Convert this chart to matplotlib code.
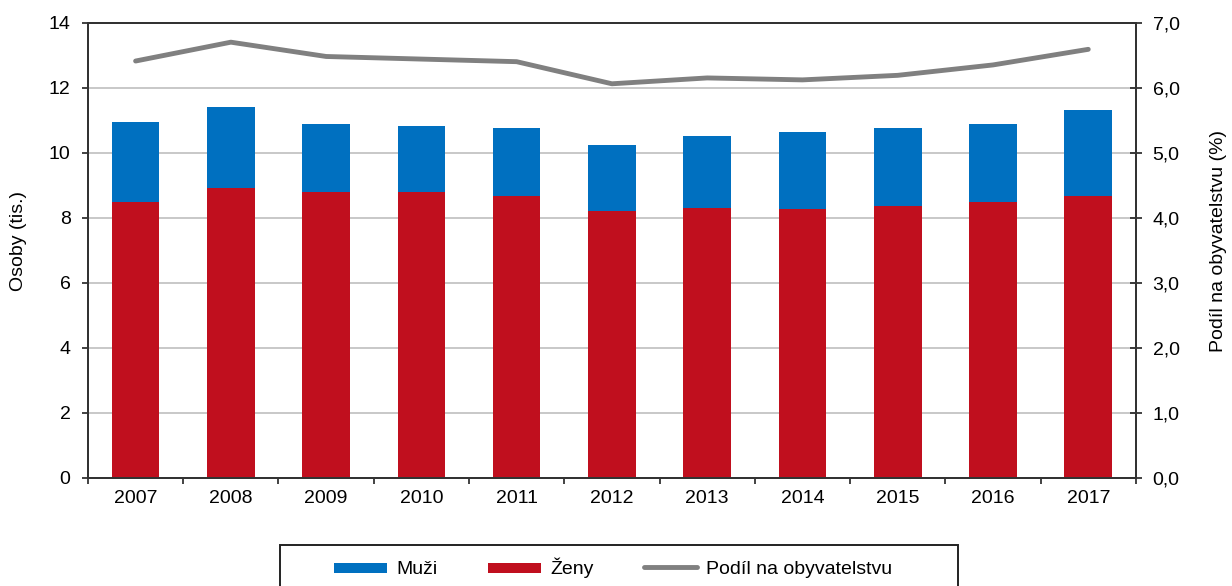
import numpy as np
import matplotlib.pyplot as plt
from matplotlib.ticker import MultipleLocator, FuncFormatter
from matplotlib.patches import Rectangle

plt.rcParams['font.family'] = ['Liberation Sans', 'DejaVu Sans']

years = ['2007', '2008', '2009', '2010', '2011', '2012', '2013', '2014', '2015', '2016', '2017']
zeny = [8.49, 8.90, 8.79, 8.79, 8.68, 8.20, 8.31, 8.26, 8.37, 8.49, 8.68]
muzi = [2.45, 2.52, 2.09, 2.03, 2.09, 2.03, 2.21, 2.38, 2.40, 2.39, 2.62]
podil = [6.41, 6.70, 6.48, 6.44, 6.40, 6.06, 6.15, 6.12, 6.19, 6.35, 6.59]

blue = '#0070C0'
red = '#C00F1E'
gray = '#808080'
fs = 14

fig = plt.figure(figsize=(12.32, 5.86), dpi=100)
ax = fig.add_axes([0.0714, 0.1848, 0.8506, 0.7765])
x = np.arange(len(years))

b1 = ax.bar(x, zeny, width=0.5, color=red, zorder=2, label='Ženy')
b2 = ax.bar(x, muzi, width=0.5, bottom=zeny, color=blue, zorder=2, label='Muži')

ax.set_xlim(-0.5, len(years) - 0.5)
ax.set_ylim(0, 14)
ax.yaxis.set_major_locator(MultipleLocator(2))
ax.grid(axis='y', color='#BFBFBF', linewidth=1.2, zorder=0)
ax.set_xticks(x)
ax.set_xticklabels(years, fontsize=fs)
ax.set_xticks(np.arange(-0.5, len(years)), minor=True)
ax.tick_params(axis='x', which='major', length=0, pad=9)
ax.tick_params(axis='x', which='minor', length=4.5, width=1.2, color='#222222')
ax.tick_params(axis='y', labelsize=fs, length=4.5, width=1.2, color='#222222', pad=8)
ax.set_ylabel('Osoby (tis.)', fontsize=fs)
ax.yaxis.set_label_coords(-0.058, 0.52)
for s in ax.spines.values():
    s.set_color('#333333')
    s.set_linewidth(1.4)

ax2 = ax.twinx()
ln, = ax2.plot(x, podil, color=gray, linewidth=3.5, label='Podíl na obyvatelstvu',
               solid_capstyle='round', zorder=3)
ax2.set_ylim(0, 7)
ax2.yaxis.set_major_locator(MultipleLocator(1))
ax2.yaxis.set_major_formatter(FuncFormatter(lambda v, p: f'{v:.1f}'.replace('.', ',')))
ax2.tick_params(axis='y', labelsize=fs, length=8, width=1.2, color='#222222', direction='inout', pad=8)
ax2.set_ylabel('Podíl na obyvatelstvu (%)', fontsize=fs)
ax2.yaxis.set_label_coords(1.0705, 0.52)
for s in ax2.spines.values():
    s.set_color('#333333')
    s.set_linewidth(1.4)

leg = fig.legend([b2, b1, ln], ['Muži', 'Ženy', 'Podíl na obyvatelstvu'],
                 loc='center left', bbox_to_anchor=(334 / 1232, 1 - 568 / 586), ncol=3,
                 fontsize=fs, frameon=False, borderpad=0, borderaxespad=0,
                 columnspacing=2.6, handlelength=2.7, handletextpad=0.5)
for h in leg.legend_handles[:2]:
    h.set_height(7)
    h.set_y(1)

fig.add_artist(Rectangle((280 / 1232, -0.05), 678 / 1232, 1 - 545 / 586 + 0.05,
                         transform=fig.transFigure, fill=False, ec='#222222', lw=1.4))

fig.savefig('out.png', dpi=100)
